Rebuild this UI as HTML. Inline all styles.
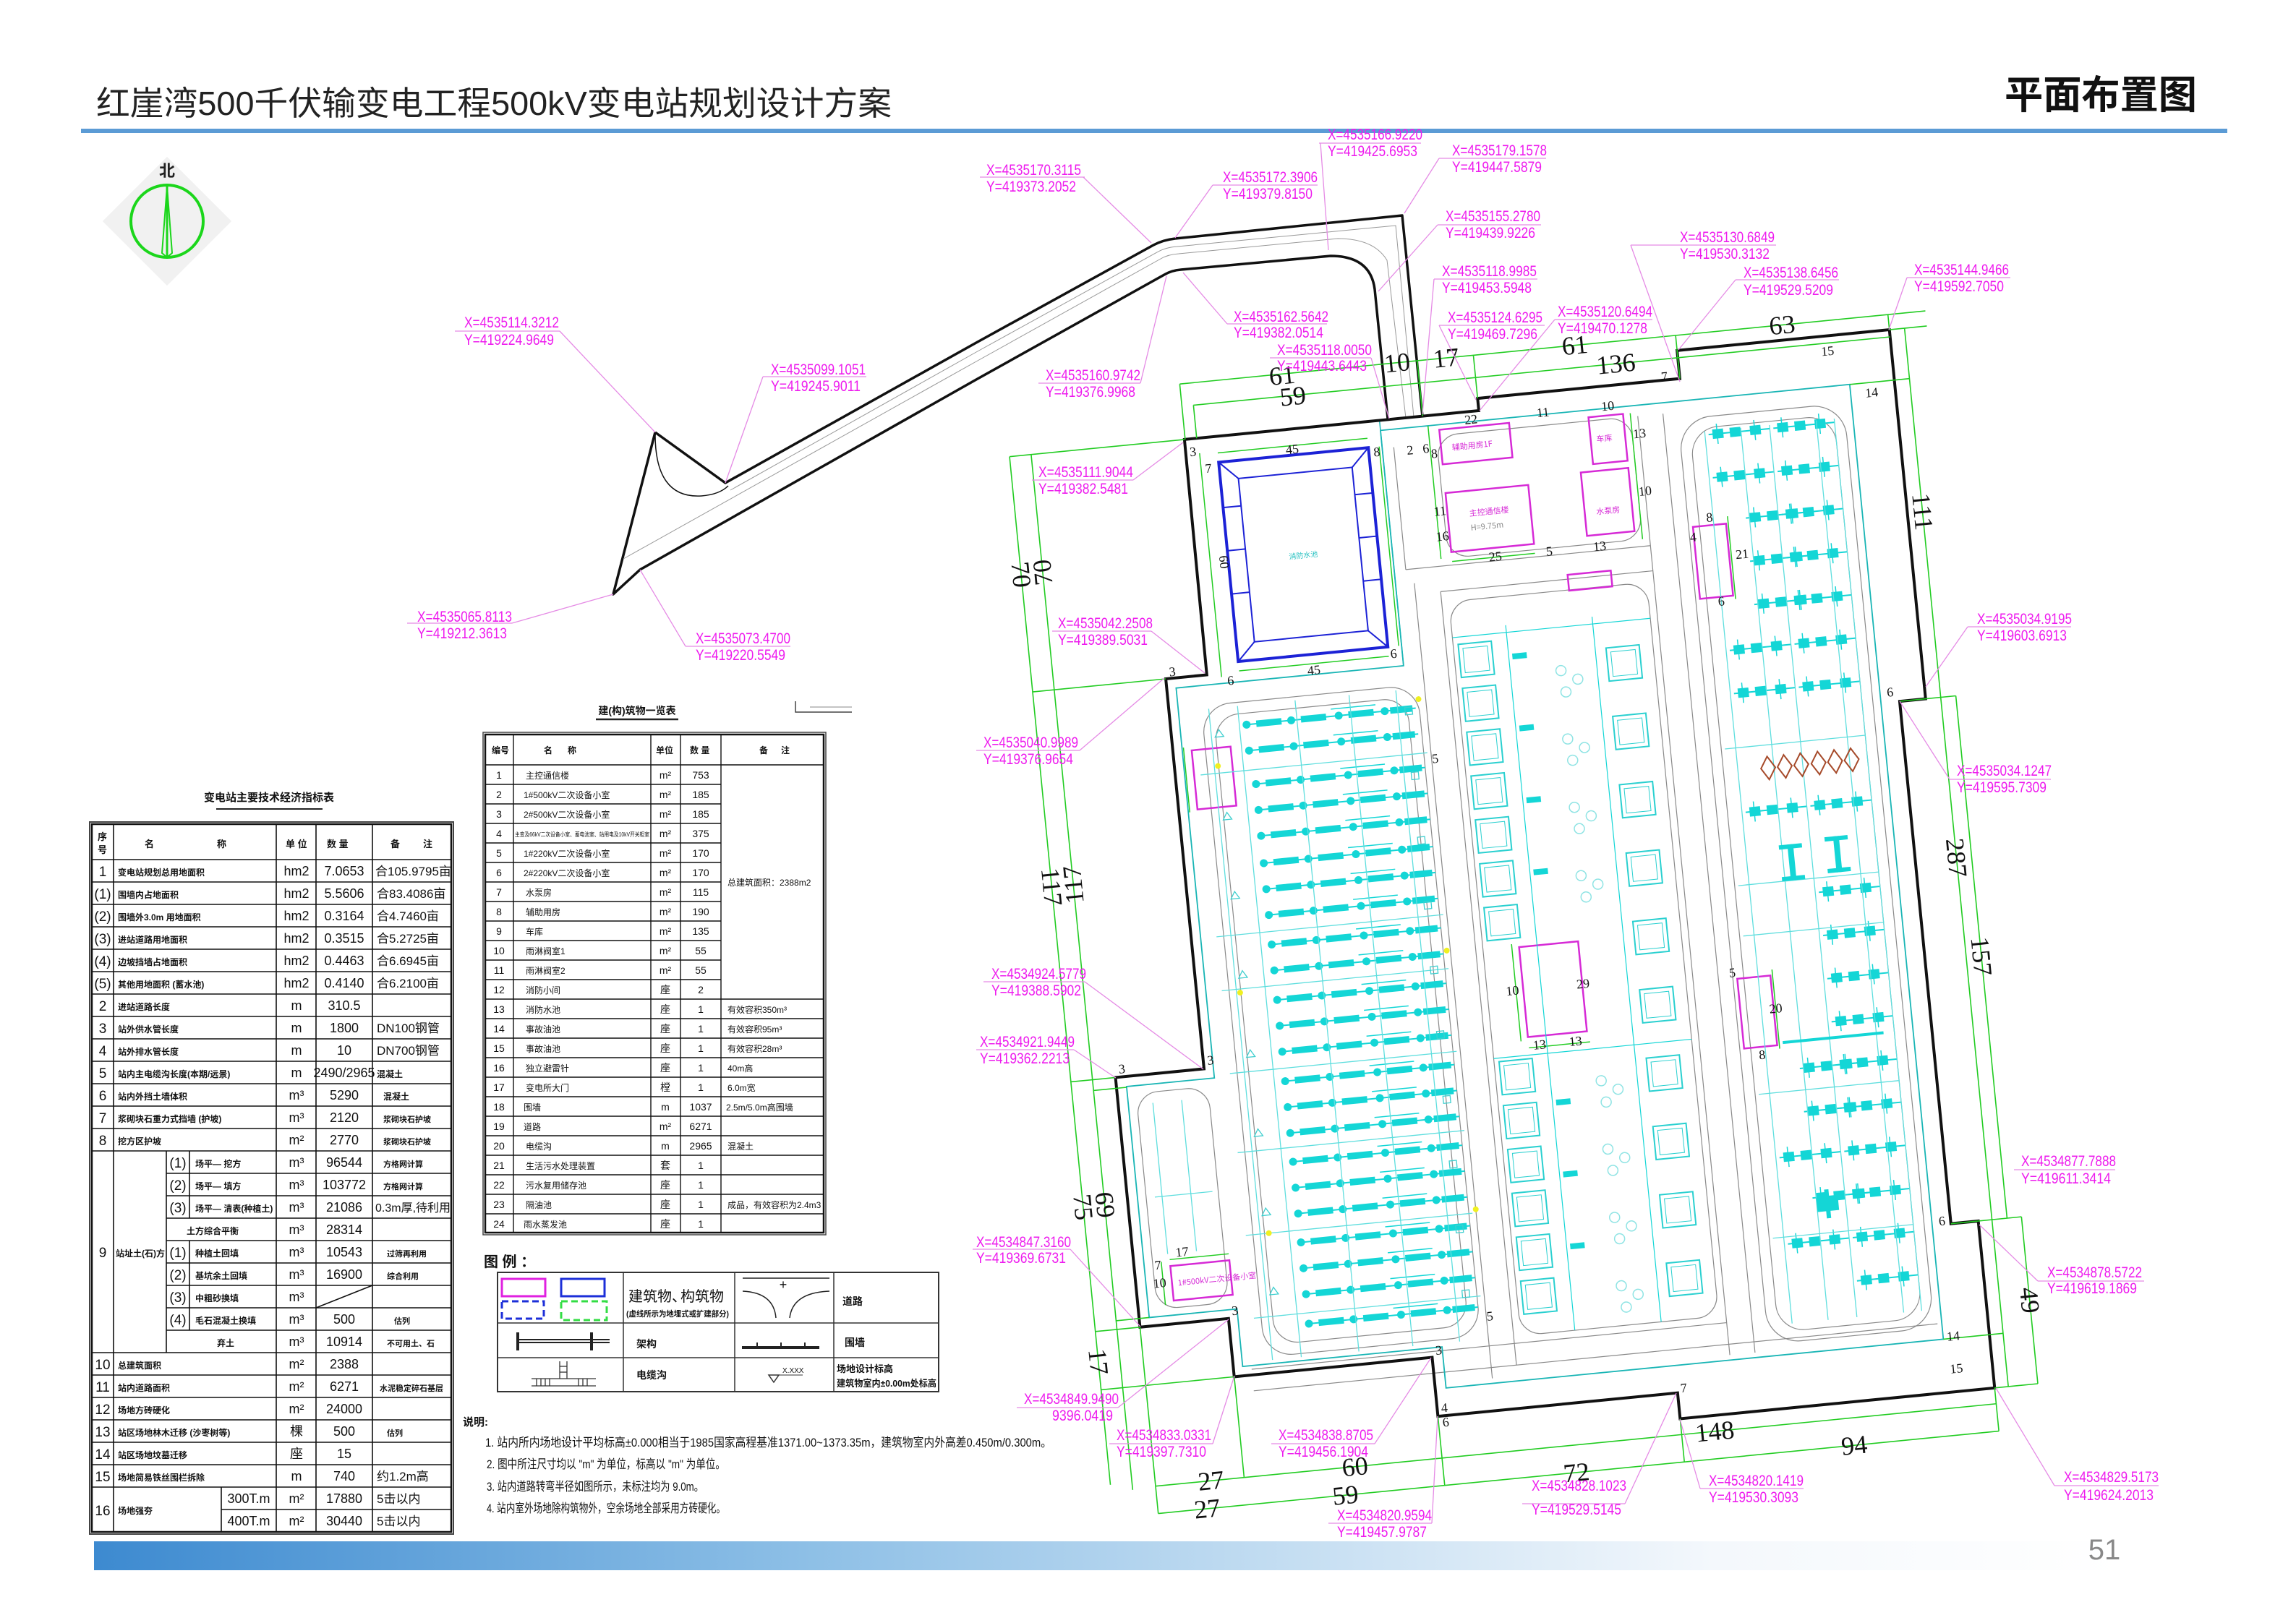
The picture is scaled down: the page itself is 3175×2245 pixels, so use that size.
<!DOCTYPE html>
<html><head><meta charset="utf-8"><style>
html,body{margin:0;padding:0;background:#fff;}
svg{display:block;}
.cl text{fill:#ee1cee;font-family:"Liberation Sans",sans-serif;font-size:21px;}
.cl line,.cl polyline{stroke:#e58be5;stroke-width:1.3;fill:none;}
.tb text{font-family:"Liberation Sans","Noto Sans CJK SC",sans-serif;fill:#111;}
.dm{font-family:"Liberation Serif",serif;fill:#111;}
</style></head><body>
<svg width="3175" height="2245" viewBox="0 0 3175 2245" xmlns="http://www.w3.org/2000/svg">
<defs>
<linearGradient id="bar" x1="0" x2="1" y1="0" y2="0">
<stop offset="0" stop-color="#3d8ad0"/><stop offset="0.35" stop-color="#8dbfe6"/><stop offset="0.8" stop-color="#f4f8fc"/><stop offset="1" stop-color="#ffffff"/></linearGradient>
<g id="b5" fill="#14d6d6" stroke="#14d6d6">
<line x1="0" y1="0" x2="235" y2="0" stroke-width="2"/>
<circle cx="0" cy="0" r="5"/><rect x="14" y="-4" width="34" height="8"/>
<circle cx="62" cy="0" r="5"/><rect x="76" y="-4" width="34" height="8"/>
<line x1="118" y1="-10" x2="180" y2="-10" stroke-width="1.5"/>
<circle cx="128" cy="0" r="5"/><rect x="142" y="-4" width="34" height="8"/><circle cx="192" cy="0" r="5"/><rect x="200" y="-4" width="30" height="8"/>
</g>
<g id="b2" fill="#14d6d6" stroke="#14d6d6">
<line x1="0" y1="0" x2="85" y2="0" stroke-width="2"/>
<rect x="6" y="-6" width="14" height="12"/><rect x="30" y="-6" width="14" height="12"/><rect x="58" y="-6" width="14" height="12"/>
<line x1="12" y1="-14" x2="12" y2="14" stroke-width="1.5"/><line x1="64" y1="-14" x2="64" y2="14" stroke-width="1.5"/>
</g>
<g id="sq"><rect x="0" y="0" width="46" height="46" fill="none" stroke="#2ad0d0" stroke-width="2"/><rect x="6" y="6" width="34" height="34" fill="none" stroke="#2ad0d0" stroke-width="1"/></g>
<g id="cc" fill="none" stroke="#8fe4e4" stroke-width="1.5"><circle cx="0" cy="0" r="7"/><circle cx="22" cy="14" r="7"/><circle cx="4" cy="30" r="7"/></g>
</defs>
<rect width="3175" height="2245" fill="#fff"/>

<!-- header -->
<text x="133" y="159" font-family="Liberation Sans,'Noto Sans CJK SC',sans-serif" font-size="46" fill="#222" textLength="1100" lengthAdjust="spacingAndGlyphs">红崖湾500千伏输变电工程500kV变电站规划设计方案</text>
<text x="2772" y="150" font-family="'Noto Sans CJK SC',sans-serif" font-size="54" font-weight="bold" fill="#111" textLength="266" lengthAdjust="spacingAndGlyphs">平面布置图</text>
<rect x="112" y="178" width="2968" height="6" fill="#5b9bd5"/>

<!-- north arrow -->
<rect x="168" y="243" width="126" height="126" fill="#f1f1f1" transform="rotate(45 231 306)"/>
<circle cx="231" cy="306" r="50" fill="none" stroke="#1bd61b" stroke-width="4"/>
<polygon points="231,258 224,350 231,356 238,350" fill="none" stroke="#1bd61b" stroke-width="2"/>
<line x1="231" y1="258" x2="231" y2="356" stroke="#1bd61b" stroke-width="3"/>
<text x="231" y="244" font-family="'Noto Sans CJK SC',sans-serif" font-size="22" text-anchor="middle" fill="#222" font-weight="bold">北</text>

<!-- ===== LEFT TABLE ===== -->
<g class="tb">
<text x="372" y="1108" font-size="15" font-weight="bold" text-anchor="middle">变电站主要技术经济指标表</text>
<line x1="299" y1="1119" x2="446" y2="1119" stroke="#222" stroke-width="2"/>
<rect x="124" y="1137" width="503" height="985" fill="none" stroke="#444" stroke-width="2"/>
<rect x="127" y="1140" width="497" height="979" fill="none" stroke="#111" stroke-width="2.5"/>
<g stroke="#111" stroke-width="1.6">
<line x1="127" y1="1189" x2="624" y2="1189"/>
<line x1="127" y1="1220" x2="624" y2="1220"/><line x1="127" y1="1251" x2="624" y2="1251"/><line x1="127" y1="1282" x2="624" y2="1282"/><line x1="127" y1="1313" x2="624" y2="1313"/><line x1="127" y1="1344" x2="624" y2="1344"/><line x1="127" y1="1375" x2="624" y2="1375"/><line x1="127" y1="1406" x2="624" y2="1406"/><line x1="127" y1="1437" x2="624" y2="1437"/><line x1="127" y1="1468" x2="624" y2="1468"/><line x1="127" y1="1499" x2="624" y2="1499"/><line x1="127" y1="1530" x2="624" y2="1530"/><line x1="127" y1="1561" x2="624" y2="1561"/><line x1="127" y1="1592" x2="624" y2="1592"/>
<line x1="230" y1="1623" x2="624" y2="1623"/><line x1="230" y1="1654" x2="624" y2="1654"/><line x1="230" y1="1685" x2="624" y2="1685"/><line x1="230" y1="1716" x2="624" y2="1716"/><line x1="230" y1="1747" x2="624" y2="1747"/><line x1="230" y1="1778" x2="624" y2="1778"/><line x1="230" y1="1809" x2="624" y2="1809"/><line x1="230" y1="1840" x2="624" y2="1840"/>
<line x1="127" y1="1871" x2="624" y2="1871"/><line x1="127" y1="1902" x2="624" y2="1902"/><line x1="127" y1="1933" x2="624" y2="1933"/><line x1="127" y1="1964" x2="624" y2="1964"/><line x1="127" y1="1995" x2="624" y2="1995"/><line x1="127" y1="2026" x2="624" y2="2026"/><line x1="127" y1="2057" x2="624" y2="2057"/>
<line x1="306" y1="2088" x2="624" y2="2088"/>
<line x1="157" y1="1140" x2="157" y2="2119"/>
<line x1="382" y1="1140" x2="382" y2="2119"/><line x1="437" y1="1140" x2="437" y2="2119"/><line x1="515" y1="1140" x2="515" y2="2119"/>
<line x1="230" y1="1592" x2="230" y2="1871"/>
<line x1="262" y1="1592" x2="262" y2="1685"/><line x1="262" y1="1716" x2="262" y2="1840"/>
<line x1="306" y1="2057" x2="306" y2="2119"/>
<line x1="437" y1="1809" x2="515" y2="1778"/>
</g>
<g font-size="13" font-weight="bold">
<text x="135" y="1162">序</text><text x="135" y="1180">号</text>
<text x="200" y="1172">名</text><text x="300" y="1172">称</text>
<text x="395" y="1172">单 位</text><text x="452" y="1172">数 量</text><text x="540" y="1172">备</text><text x="585" y="1172">注</text>
</g>
<g font-size="19" text-anchor="middle">
<text x="142" y="1212">1</text><text x="142" y="1243">(1)</text><text x="142" y="1274">(2)</text><text x="142" y="1305">(3)</text><text x="142" y="1336">(4)</text><text x="142" y="1367">(5)</text>
<text x="142" y="1398">2</text><text x="142" y="1429">3</text><text x="142" y="1460">4</text><text x="142" y="1491">5</text><text x="142" y="1522">6</text><text x="142" y="1553">7</text><text x="142" y="1584">8</text><text x="142" y="1739">9</text>
<text x="142" y="1894">10</text><text x="142" y="1925">11</text><text x="142" y="1956">12</text><text x="142" y="1987">13</text><text x="142" y="2018">14</text><text x="142" y="2049">15</text><text x="142" y="2096">16</text>
<text x="246" y="1615">(1)</text><text x="246" y="1646">(2)</text><text x="246" y="1677">(3)</text><text x="246" y="1739">(1)</text><text x="246" y="1770">(2)</text><text x="246" y="1801">(3)</text><text x="246" y="1832">(4)</text>
</g>
<g font-size="12" font-weight="bold">
<text x="163" y="1211">变电站规划总用地面积</text><text x="163" y="1242">围墙内占地面积</text><text x="163" y="1273">围墙外3.0m 用地面积</text><text x="163" y="1304">进站道路用地面积</text><text x="163" y="1335">边坡挡墙占地面积</text><text x="163" y="1366">其他用地面积 (蓄水池)</text>
<text x="163" y="1397">进站道路长度</text><text x="163" y="1428">站外供水管长度</text><text x="163" y="1459">站外排水管长度</text><text x="163" y="1490">站内主电缆沟长度(本期/远景)</text><text x="163" y="1521">站内外挡土墙体积</text><text x="163" y="1552">浆砌块石重力式挡墙 (护坡)</text><text x="163" y="1583">挖方区护坡</text>
<text x="160" y="1738">站址土(石)方</text>
<text x="270" y="1614">场平— 挖方</text><text x="270" y="1645">场平— 填方</text><text x="270" y="1676">场平— 清表(种植土)</text><text x="258" y="1707">土方综合平衡</text><text x="270" y="1738">种植土回填</text><text x="270" y="1769">基坑余土回填</text><text x="270" y="1800">中粗砂换填</text><text x="270" y="1831">毛石混凝土换填</text><text x="300" y="1862">弃土</text>
<text x="163" y="1893">总建筑面积</text><text x="163" y="1924">站内道路面积</text><text x="163" y="1955">场地方砖硬化</text><text x="163" y="1986">站区场地林木迁移 (沙枣树等)</text><text x="163" y="2017">站区场地坟墓迁移</text><text x="163" y="2048">场地简易铁丝围栏拆除</text><text x="163" y="2094">场地强夯</text>
</g>
<g font-size="18" text-anchor="middle">
<text x="410" y="1211">hm2</text><text x="410" y="1242">hm2</text><text x="410" y="1273">hm2</text><text x="410" y="1304">hm2</text><text x="410" y="1335">hm2</text><text x="410" y="1366">hm2</text>
<text x="410" y="1397">m</text><text x="410" y="1428">m</text><text x="410" y="1459">m</text><text x="410" y="1490">m</text><text x="410" y="1521">m³</text><text x="410" y="1552">m³</text><text x="410" y="1583">m²</text>
<text x="410" y="1614">m³</text><text x="410" y="1645">m³</text><text x="410" y="1676">m³</text><text x="410" y="1707">m³</text><text x="410" y="1738">m³</text><text x="410" y="1769">m³</text><text x="410" y="1800">m³</text><text x="410" y="1831">m³</text><text x="410" y="1862">m³</text>
<text x="410" y="1893">m²</text><text x="410" y="1924">m²</text><text x="410" y="1955">m²</text><text x="410" y="1986">棵</text><text x="410" y="2017">座</text><text x="410" y="2048">m</text><text x="410" y="2079">m²</text><text x="410" y="2110">m²</text>
<text x="476" y="1211">7.0653</text><text x="476" y="1242">5.5606</text><text x="476" y="1273">0.3164</text><text x="476" y="1304">0.3515</text><text x="476" y="1335">0.4463</text><text x="476" y="1366">0.4140</text>
<text x="476" y="1397">310.5</text><text x="476" y="1428">1800</text><text x="476" y="1459">10</text><text x="476" y="1490">2490/2965</text><text x="476" y="1521">5290</text><text x="476" y="1552">2120</text><text x="476" y="1583">2770</text>
<text x="476" y="1614">96544</text><text x="476" y="1645">103772</text><text x="476" y="1676">21086</text><text x="476" y="1707">28314</text><text x="476" y="1738">10543</text><text x="476" y="1769">16900</text><text x="476" y="1831">500</text><text x="476" y="1862">10914</text>
<text x="476" y="1893">2388</text><text x="476" y="1924">6271</text><text x="476" y="1955">24000</text><text x="476" y="1986">500</text><text x="476" y="2017">15</text><text x="476" y="2048">740</text><text x="476" y="2079">17880</text><text x="476" y="2110">30440</text>
<text x="344" y="2079">300T.m</text><text x="344" y="2110">400T.m</text>
</g>
<g font-size="17">
<text x="519" y="1211">合105.9795亩</text><text x="521" y="1242">合83.4086亩</text><text x="521" y="1273">合4.7460亩</text><text x="521" y="1304">合5.2725亩</text><text x="521" y="1335">合6.6945亩</text><text x="521" y="1366">合6.2100亩</text>
<text x="521" y="1428">DN100钢管</text><text x="521" y="1459">DN700钢管</text><text x="521" y="1490" font-size="12" font-weight="bold">混凝土</text><text x="530" y="1521" font-size="12" font-weight="bold">混凝土</text><text x="530" y="1552" font-size="11" font-weight="bold">浆砌块石护坡</text><text x="530" y="1583" font-size="11" font-weight="bold">浆砌块石护坡</text>
<text x="530" y="1614" font-size="11" font-weight="bold">方格网计算</text><text x="530" y="1645" font-size="11" font-weight="bold">方格网计算</text><text x="519" y="1676" font-size="16">0.3m厚,待利用</text><text x="535" y="1738" font-size="11" font-weight="bold">过筛再利用</text><text x="535" y="1769" font-size="11" font-weight="bold">综合利用</text><text x="545" y="1831" font-size="11" font-weight="bold">估列</text><text x="535" y="1862" font-size="11" font-weight="bold">不可用土、石</text>
<text x="525" y="1924" font-size="11" font-weight="bold">水泥稳定碎石基层</text><text x="535" y="1986" font-size="11" font-weight="bold">估列</text><text x="521" y="2048">约1.2m高</text><text x="521" y="2079">5击以内</text><text x="521" y="2110">5击以内</text>
</g>
</g>

<!-- ===== MIDDLE TABLE ===== -->
<g class="tb">
<text x="881" y="988" font-size="14" font-weight="bold" text-anchor="middle">建(构)筑物一览表</text>
<line x1="824" y1="995" x2="938" y2="995" stroke="#222" stroke-width="2.5"/>
<polyline points="1100,970 1100,985 1178,985" fill="none" stroke="#444" stroke-width="1.5"/>
<line x1="1120" y1="978" x2="1178" y2="978" stroke="#888" stroke-width="1"/>
<rect x="668" y="1013" width="474" height="695" fill="none" stroke="#444" stroke-width="1.5"/>
<rect x="671" y="1016" width="468" height="689" fill="none" stroke="#111" stroke-width="2.5"/>
<g stroke="#111" stroke-width="1.4">
<line x1="671" y1="1058" x2="1139" y2="1058"/>
<line x1="671" y1="1085" x2="997" y2="1085"/><line x1="671" y1="1112" x2="997" y2="1112"/><line x1="671" y1="1139" x2="997" y2="1139"/><line x1="671" y1="1166" x2="997" y2="1166"/><line x1="671" y1="1193" x2="997" y2="1193"/><line x1="671" y1="1220" x2="997" y2="1220"/><line x1="671" y1="1247" x2="997" y2="1247"/><line x1="671" y1="1274" x2="997" y2="1274"/><line x1="671" y1="1301" x2="997" y2="1301"/><line x1="671" y1="1328" x2="997" y2="1328"/><line x1="671" y1="1355" x2="997" y2="1355"/>
<line x1="671" y1="1382" x2="1139" y2="1382"/><line x1="671" y1="1409" x2="1139" y2="1409"/><line x1="671" y1="1436" x2="1139" y2="1436"/><line x1="671" y1="1463" x2="1139" y2="1463"/><line x1="671" y1="1490" x2="1139" y2="1490"/><line x1="671" y1="1517" x2="1139" y2="1517"/><line x1="671" y1="1544" x2="1139" y2="1544"/><line x1="671" y1="1571" x2="1139" y2="1571"/><line x1="671" y1="1598" x2="1139" y2="1598"/><line x1="671" y1="1625" x2="1139" y2="1625"/><line x1="671" y1="1652" x2="1139" y2="1652"/><line x1="671" y1="1679" x2="1139" y2="1679"/>
<line x1="710" y1="1016" x2="710" y2="1705"/><line x1="900" y1="1016" x2="900" y2="1705"/><line x1="941" y1="1016" x2="941" y2="1705"/><line x1="997" y1="1016" x2="997" y2="1705"/>
</g>
<g font-size="12" font-weight="bold"><text x="680" y="1042">编号</text><text x="752" y="1042">名</text><text x="785" y="1042">称</text><text x="907" y="1042">单位</text><text x="954" y="1042">数 量</text><text x="1050" y="1042">备</text><text x="1080" y="1042">注</text></g>
<g font-size="14" text-anchor="middle">
<text x="690" y="1077">1</text><text x="690" y="1104">2</text><text x="690" y="1131">3</text><text x="690" y="1158">4</text><text x="690" y="1185">5</text><text x="690" y="1212">6</text><text x="690" y="1239">7</text><text x="690" y="1266">8</text><text x="690" y="1293">9</text><text x="690" y="1320">10</text><text x="690" y="1347">11</text><text x="690" y="1374">12</text><text x="690" y="1401">13</text><text x="690" y="1428">14</text><text x="690" y="1455">15</text><text x="690" y="1482">16</text><text x="690" y="1509">17</text><text x="690" y="1536">18</text><text x="690" y="1563">19</text><text x="690" y="1590">20</text><text x="690" y="1617">21</text><text x="690" y="1644">22</text><text x="690" y="1671">23</text><text x="690" y="1698">24</text>
<text x="969" y="1077">753</text><text x="969" y="1104">185</text><text x="969" y="1131">185</text><text x="969" y="1158">375</text><text x="969" y="1185">170</text><text x="969" y="1212">170</text><text x="969" y="1239">115</text><text x="969" y="1266">190</text><text x="969" y="1293">135</text><text x="969" y="1320">55</text><text x="969" y="1347">55</text><text x="969" y="1374">2</text><text x="969" y="1401">1</text><text x="969" y="1428">1</text><text x="969" y="1455">1</text><text x="969" y="1482">1</text><text x="969" y="1509">1</text><text x="969" y="1536">1037</text><text x="969" y="1563">6271</text><text x="969" y="1590">2965</text><text x="969" y="1617">1</text><text x="969" y="1644">1</text><text x="969" y="1671">1</text><text x="969" y="1698">1</text>
<text x="920" y="1077">m²</text><text x="920" y="1104">m²</text><text x="920" y="1131">m²</text><text x="920" y="1158">m²</text><text x="920" y="1185">m²</text><text x="920" y="1212">m²</text><text x="920" y="1239">m²</text><text x="920" y="1266">m²</text><text x="920" y="1293">m²</text><text x="920" y="1320">m²</text><text x="920" y="1347">m²</text><text x="920" y="1374">座</text><text x="920" y="1401">座</text><text x="920" y="1428">座</text><text x="920" y="1455">座</text><text x="920" y="1482">座</text><text x="920" y="1509">樘</text><text x="920" y="1536">m</text><text x="920" y="1563">m²</text><text x="920" y="1590">m</text><text x="920" y="1617">套</text><text x="920" y="1644">座</text><text x="920" y="1671">座</text><text x="920" y="1698">座</text>
</g>
<g font-size="12">
<text x="727" y="1077">主控通信楼</text><text x="724" y="1104">1#500kV二次设备小室</text><text x="724" y="1131">2#500kV二次设备小室</text><text x="712" y="1157" font-size="8" textLength="186" lengthAdjust="spacingAndGlyphs">主变及66kV二次设备小室、蓄电池室、站用电及10kV开关柜室</text><text x="724" y="1185">1#220kV二次设备小室</text><text x="724" y="1212">2#220kV二次设备小室</text><text x="727" y="1239">水泵房</text><text x="727" y="1266">辅助用房</text><text x="727" y="1293">车库</text><text x="727" y="1320">雨淋阀室1</text><text x="727" y="1347">雨淋阀室2</text><text x="727" y="1374">消防小间</text><text x="727" y="1401">消防水池</text><text x="727" y="1428">事故油池</text><text x="727" y="1455">事故油池</text><text x="727" y="1482">独立避雷针</text><text x="727" y="1509">变电所大门</text><text x="724" y="1536">围墙</text><text x="724" y="1563">道路</text><text x="727" y="1590">电缆沟</text><text x="727" y="1617">生活污水处理装置</text><text x="727" y="1644">污水复用储存池</text><text x="727" y="1671">隔油池</text><text x="724" y="1698">雨水蒸发池</text>
<text x="1006" y="1225">总建筑面积：2388m2</text>
<text x="1006" y="1401">有效容积350m³</text><text x="1006" y="1428">有效容积95m³</text><text x="1006" y="1455">有效容积28m³</text><text x="1006" y="1482">40m高</text><text x="1006" y="1509">6.0m宽</text><text x="1004" y="1536">2.5m/5.0m高围墙</text><text x="1006" y="1590">混凝土</text><text x="1006" y="1671">成品，有效容积为2.4m3</text>
</g>
</g>

<!-- ===== LEGEND ===== -->
<g class="tb">
<text x="669" y="1752" font-size="20" font-weight="bold">图 例 ：</text>
<rect x="688" y="1760" width="610" height="165" fill="none" stroke="#333" stroke-width="2"/>
<g stroke="#333" stroke-width="1.5"><line x1="688" y1="1830" x2="1298" y2="1830"/><line x1="688" y1="1878" x2="1298" y2="1878"/><line x1="862" y1="1760" x2="862" y2="1925"/><line x1="1016" y1="1760" x2="1016" y2="1925"/><line x1="1153" y1="1760" x2="1153" y2="1925"/></g>
<rect x="694" y="1769" width="60" height="24" fill="none" stroke="#e020e0" stroke-width="3"/>
<rect x="776" y="1769" width="60" height="24" fill="none" stroke="#1c2fd8" stroke-width="3"/>
<rect x="694" y="1800" width="58" height="24" fill="none" stroke="#1c2fd8" stroke-width="3" stroke-dasharray="9,5"/>
<rect x="776" y="1800" width="63" height="26" fill="none" stroke="#33dd44" stroke-width="3" stroke-dasharray="9,5"/>
<text x="869" y="1800" font-size="20" fill="#ee44ee">建筑物、</text><text x="941" y="1800" font-size="20" fill="#3a3ad8">构筑物</text>
<text x="866" y="1821" font-size="11" font-weight="bold" textLength="142" lengthAdjust="spacingAndGlyphs">(虚线所示为地埋式或扩建部分)</text>
<line x1="1027" y1="1768" x2="1147" y2="1768" stroke="#222" stroke-width="1.5"/>
<text x="1083" y="1783" font-size="18" text-anchor="middle">+</text>
<path d="M1027,1786 Q1070,1788 1073,1823 M1092,1823 Q1096,1788 1147,1786" fill="none" stroke="#222" stroke-width="1.5"/>
<text x="1165" y="1805" font-size="14" font-weight="bold">道路</text>
<line x1="716" y1="1855" x2="843" y2="1855" stroke="#222" stroke-width="6"/><line x1="716" y1="1855" x2="843" y2="1855" stroke="#fff" stroke-width="2"/>
<line x1="716" y1="1843" x2="716" y2="1868" stroke="#222" stroke-width="4"/><line x1="818" y1="1843" x2="818" y2="1868" stroke="#222" stroke-width="4"/>
<text x="880" y="1864" font-size="14" font-weight="bold">架构</text>
<line x1="1026" y1="1864" x2="1133" y2="1864" stroke="#222" stroke-width="4"/>
<line x1="1047" y1="1857" x2="1047" y2="1864" stroke="#222" stroke-width="2"/><line x1="1080" y1="1857" x2="1080" y2="1864" stroke="#222" stroke-width="2"/><line x1="1113" y1="1857" x2="1113" y2="1864" stroke="#222" stroke-width="2"/>
<text x="1168" y="1862" font-size="14" font-weight="bold">围墙</text>
<g stroke="#333" stroke-width="1.3" fill="none"><line x1="735" y1="1907" x2="824" y2="1907"/><line x1="735" y1="1917" x2="824" y2="1917"/><line x1="774" y1="1883" x2="774" y2="1907"/><line x1="784" y1="1883" x2="784" y2="1907"/><line x1="774" y1="1890" x2="784" y2="1890"/><line x1="774" y1="1898" x2="784" y2="1898"/><path d="M742,1907 v10 M748,1907 v10 M754,1907 v10 M760,1907 v10 M800,1907 v10 M806,1907 v10 M812,1907 v10"/></g>
<text x="880" y="1907" font-size="14" font-weight="bold">电缆沟</text>
<polygon points="1063,1902 1077,1902 1070,1912" fill="none" stroke="#333" stroke-width="1.5"/><line x1="1063" y1="1902" x2="1110" y2="1902" stroke="#333"/>
<text x="1082" y="1899" font-size="10">X.XXX</text>
<text x="1157" y="1898" font-size="13" font-weight="bold">场地设计标高</text>
<text x="1157" y="1918" font-size="13" font-weight="bold" textLength="138" lengthAdjust="spacingAndGlyphs">建筑物室内±0.00m处标高</text>
</g>

<!-- ===== NOTES ===== -->
<g class="tb" font-size="17">
<text x="640" y="1972" font-size="15" font-weight="bold">说明:</text>
<text x="671" y="2001" textLength="783" lengthAdjust="spacingAndGlyphs">1. 站内所内场地设计平均标高±0.000相当于1985国家高程基准1371.00~1373.35m，建筑物室内外高差0.450m/0.300m。</text>
<text x="673" y="2031" textLength="330" lengthAdjust="spacingAndGlyphs">2. 图中所注尺寸均以 "m" 为单位，标高以 "m" 为单位。</text>
<text x="673" y="2062" textLength="300" lengthAdjust="spacingAndGlyphs">3. 站内道路转弯半径如图所示，未标注均为 9.0m。</text>
<text x="673" y="2092" textLength="330" lengthAdjust="spacingAndGlyphs">4. 站内室外场地除构筑物外，空余场地全部采用方砖硬化。</text>
</g>

<!-- ===== ACCESS ROAD ===== -->
<g fill="none" stroke="#111" stroke-width="3.5" stroke-linejoin="round">
<path d="M906,598 L1003,668 L1350,474 L1595,339 Q1608,332 1625,330 L1939,298 L1967,576"/>
<path d="M906,598 L848,822 L885,788 L1350,525 L1610,380 Q1620,374 1633,373 L1840,354 Q1895,354 1901,400 L1919,579"/>
</g>
<path d="M906,598 Q905,690 970,686 Q995,684 1007,672" fill="none" stroke="#111" stroke-width="1.5"/>
<g fill="none" stroke="#999" stroke-width="1">
<path d="M862,773 L1350,500 L1605,358 Q1615,352 1630,351 L1850,330 Q1900,330 1918,360 L1944,578"/>
<path d="M1010,678 L1350,487 L1600,349 Q1612,342 1628,341 L1930,312 L1955,577"/>
</g>

<!-- ===== STATION (rotated frame) ===== -->
<g transform="rotate(-5.6 2150 1250)">
<g fill="none" stroke="#8a8a8a" stroke-width="1.2">
<rect x="1690" y="930" width="300" height="905" rx="40"/>
<rect x="1706" y="946" width="268" height="873" rx="34"/>
<rect x="1548" y="1455" width="100" height="300" rx="30"/>
<line x1="2000" y1="790" x2="2000" y2="1895"/><line x1="2035" y1="805" x2="2035" y2="1880"/>
<line x1="2330" y1="590" x2="2330" y2="1895"/><line x1="2365" y1="590" x2="2365" y2="1895"/>
<path d="M1990,770 L2330,770 M2035,805 L2330,805"/>
<rect x="2385" y="600" width="230" height="1285" rx="45"/>
<rect x="2400" y="615" width="200" height="1255" rx="38"/>
<line x1="1670" y1="1880" x2="2620" y2="1880"/><line x1="1670" y1="1850" x2="2330" y2="1850"/>
<rect x="2045" y="820" width="275" height="1020" rx="30"/>
<rect x="2050" y="590" width="270" height="170" rx="30"/>
<path d="M1990,600 L1990,770"/>
</g>
<polygon points="1974,575 2626,575 2626,1902 1935,1902 1935,1845 1658,1845 1658,1765 1536,1765 1536,1444 1658,1444 1658,902 1974,902" fill="none" stroke="#19b5b5" stroke-width="1.8"/>
<line x1="1974" y1="561" x2="1974" y2="902" stroke="#19b5b5" stroke-width="1.5"/>
<polygon points="1703,561 2112,561 2112,544 2393,544 2393,505 2688,505 2688,1018 2652,1018 2652,1744 2690,1744 2690,1976 2253,1976 2253,1940 1920,1940 1920,1858 1645,1858 1645,1777 1522,1777 1522,1430 1645,1430 1645,888 1702,888" fill="none" stroke="#111" stroke-width="4"/>
<g fill="none" stroke="#1c22d6" stroke-width="4">
<rect x="1747" y="597" width="208" height="277"/>
<rect x="1772" y="622" width="158" height="227" stroke-width="2"/>
<path d="M1747,597 L1772,622 M1955,597 L1930,622 M1955,874 L1930,849 M1747,874 L1772,849" stroke-width="2"/>
<path d="M1747,660 h25 M1747,720 h25 M1747,780 h25 M1930,660 h25 M1930,720 h25 M1930,780 h25" stroke-width="2"/>
</g>
<text x="1851" y="740" font-size="10" fill="#22c0c0" text-anchor="middle">消防水池</text>
<g stroke="#22cc22" stroke-width="1.5" fill="none">
<path d="M1722,582 L1722,893 M1747,584 L1955,584 M1747,887 L1955,887 M1970,597 L1970,874"/>
</g>
<g fill="none" stroke="#d62ad6" stroke-width="2.5">
<rect x="2055" y="582" width="97" height="48"/>
<rect x="2055" y="670" width="115" height="82"/>
<rect x="2262" y="585" width="48" height="65"/>
<rect x="2244" y="660" width="66" height="88"/>
<rect x="2212" y="799" width="60" height="22"/>
<rect x="2391" y="750" width="46" height="100"/>
<rect x="2391" y="1378" width="46" height="97"/>
<rect x="1671" y="990" width="54" height="82"/>
<rect x="2095" y="1305" width="82" height="125"/>
<rect x="1572" y="1697" width="82" height="48"/>
</g>
<g font-family="'Noto Sans CJK SC',sans-serif" fill="#d62ad6" font-size="11">
<text x="2070" y="612">辅助用房1F</text><text x="2085" y="705">主控通信楼</text><text x="2085" y="725" fill="#888">H=9.75m</text>
<text x="2270" y="620">车库</text><text x="2260" y="720">水泵房</text><text x="1580" y="1725">1#500kV二次设备小室</text>
</g>
<g stroke="#22cc22" stroke-width="1.5" fill="none">
<path d="M2040,575 L2040,760 M2055,765 L2170,765 M2320,585 L2320,760 M2440,740 L2440,855 M2440,1370 L2440,1480 M1660,985 L1660,1075 M2085,1300 L2085,1435 M2095,1445 L2180,1445 M1560,1690 L1560,1750 M1572,1688 L1654,1688"/>
</g>
<g>
<use href="#sq" x="2052" y="880"/><use href="#sq" x="2052" y="941"/><use href="#sq" x="2052" y="1002"/><use href="#sq" x="2052" y="1063"/><use href="#sq" x="2052" y="1124"/><use href="#sq" x="2052" y="1185"/><use href="#sq" x="2052" y="1246"/><use href="#sq" x="2052" y="1460"/><use href="#sq" x="2052" y="1521"/><use href="#sq" x="2052" y="1582"/><use href="#sq" x="2052" y="1643"/><use href="#sq" x="2052" y="1704"/><use href="#sq" x="2052" y="1765"/>
<use href="#sq" x="2255" y="905"/><use href="#sq" x="2255" y="1000"/><use href="#sq" x="2255" y="1095"/><use href="#sq" x="2255" y="1190"/><use href="#sq" x="2255" y="1285"/><use href="#sq" x="2255" y="1380"/><use href="#sq" x="2255" y="1475"/><use href="#sq" x="2255" y="1570"/><use href="#sq" x="2255" y="1665"/><use href="#sq" x="2255" y="1760"/>
<use href="#cc" x="2190" y="930"/><use href="#cc" x="2190" y="1025"/><use href="#cc" x="2190" y="1120"/><use href="#cc" x="2190" y="1215"/><use href="#cc" x="2190" y="1500"/><use href="#cc" x="2190" y="1595"/><use href="#cc" x="2190" y="1690"/><use href="#cc" x="2190" y="1785"/>
<g stroke="#14d6d6" stroke-width="1.2" fill="none"><path d="M2120,860 L2120,1840 M2240,860 L2240,1840 M2045,1455 L2320,1455 M2045,870 L2320,870"/></g>
<g fill="#14d6d6"><rect x="2125" y="900" width="20" height="8"/><rect x="2125" y="1000" width="20" height="8"/><rect x="2125" y="1100" width="20" height="8"/><rect x="2125" y="1200" width="20" height="8"/><rect x="2125" y="1520" width="20" height="8"/><rect x="2125" y="1620" width="20" height="8"/><rect x="2125" y="1720" width="20" height="8"/></g>
</g>
<g>
<use href="#b5" x="1750" y="962"/><use href="#b5" x="1750" y="998"/><use href="#b5" x="1755" y="1045"/><use href="#b5" x="1755" y="1081"/><use href="#b5" x="1755" y="1117"/><use href="#b5" x="1755" y="1155"/><use href="#b5" x="1755" y="1191"/><use href="#b5" x="1755" y="1227"/><use href="#b5" x="1755" y="1268"/><use href="#b5" x="1755" y="1304"/><use href="#b5" x="1755" y="1345"/><use href="#b5" x="1755" y="1381"/><use href="#b5" x="1755" y="1417"/><use href="#b5" x="1755" y="1458"/><use href="#b5" x="1755" y="1494"/><use href="#b5" x="1755" y="1530"/><use href="#b5" x="1755" y="1570"/><use href="#b5" x="1755" y="1606"/><use href="#b5" x="1755" y="1642"/><use href="#b5" x="1755" y="1682"/><use href="#b5" x="1755" y="1718"/><use href="#b5" x="1755" y="1754"/><use href="#b5" x="1755" y="1795"/>
<g stroke="#5fdede" stroke-width="1.3" fill="none"><path d="M1700,935 L1700,1840 M1740,935 L1740,1840 M1820,935 L1820,1840 M1895,935 L1895,1840 M1960,935 L1960,1840 M1680,1025 L1995,1025 M1680,1250 L1995,1250 M1680,1325 L1995,1325 M1680,1440 L1995,1440 M1680,1550 L1995,1550 M1680,1665 L1995,1665 M1680,1780 L1995,1780 M1570,1470 L1570,1680 M1610,1470 L1610,1680 M1560,1600 L1640,1600"/></g>
<g fill="none" stroke="#3fcfcf" stroke-width="1.3"><path d="M1705,975 l6,-10 l6,10 z M1705,1090 l6,-10 l6,10 z M1705,1200 l6,-10 l6,10 z M1705,1310 l6,-10 l6,10 z M1705,1420 l6,-10 l6,10 z M1705,1530 l6,-10 l6,10 z M1705,1640 l6,-10 l6,10 z M1705,1750 l6,-10 l6,10 z"/>
<path d="M1970,960 h10 v10 h-10z M1970,1050 h10 v10 h-10z M1970,1140 h10 v10 h-10z M1970,1230 h10 v10 h-10z M1970,1320 h10 v10 h-10z M1970,1410 h10 v10 h-10z M1970,1500 h10 v10 h-10z M1970,1590 h10 v10 h-10z M1970,1680 h10 v10 h-10z M1970,1770 h10 v10 h-10z"/></g>
<g fill="#f0f020"><circle cx="1705" cy="1015" r="4"/><circle cx="1990" cy="950" r="4"/><circle cx="1705" cy="1330" r="4"/><circle cx="1995" cy="1300" r="4"/><circle cx="1712" cy="1665" r="4"/><circle cx="2000" cy="1660" r="4"/></g>
</g>
<g>
<use href="#b2" x="2425" y="625"/><use href="#b2" x="2515" y="625"/><use href="#b2" x="2425" y="685"/><use href="#b2" x="2515" y="685"/><use href="#b2" x="2465" y="745"/><use href="#b2" x="2515" y="745"/><use href="#b2" x="2465" y="805"/><use href="#b2" x="2515" y="805"/><use href="#b2" x="2465" y="865"/><use href="#b2" x="2515" y="865"/><use href="#b2" x="2425" y="925"/><use href="#b2" x="2515" y="925"/><use href="#b2" x="2425" y="985"/><use href="#b2" x="2515" y="985"/>
<use href="#b2" x="2425" y="1150"/><use href="#b2" x="2515" y="1150"/><use href="#b2" x="2515" y="1270"/><use href="#b2" x="2515" y="1330"/><use href="#b2" x="2515" y="1390"/><use href="#b2" x="2515" y="1450"/><use href="#b2" x="2465" y="1510"/><use href="#b2" x="2515" y="1510"/><use href="#b2" x="2465" y="1570"/><use href="#b2" x="2515" y="1570"/><use href="#b2" x="2425" y="1630"/><use href="#b2" x="2515" y="1630"/><use href="#b2" x="2465" y="1690"/><use href="#b2" x="2515" y="1690"/><use href="#b2" x="2425" y="1750"/><use href="#b2" x="2515" y="1750"/><use href="#b2" x="2515" y="1810"/>
<g stroke="#5fdede" stroke-width="1.3" fill="none"><path d="M2420,620 L2420,1860 M2470,620 L2470,1860 M2510,620 L2510,1860 M2575,620 L2575,1860 M2600,620 L2600,1860 M2405,1060 L2600,1060 M2405,1250 L2600,1250 M2405,1320 L2600,1320 M2405,1540 L2600,1540 M2405,1740 L2600,1740"/></g>
<g fill="none" stroke="#a64a2a" stroke-width="2"><path d="M2452,1092 l10,-16 l10,16 l-10,16z M2475,1092 l10,-16 l10,16 l-10,16z M2498,1092 l10,-16 l10,16 l-10,16z M2522,1092 l10,-16 l10,16 l-10,16z M2545,1092 l10,-16 l10,16 l-10,16z M2568,1092 l10,-16 l10,16 l-10,16z"/></g>
<g fill="#14d6d6"><rect x="2478" y="1200" width="8" height="50"/><rect x="2466" y="1200" width="32" height="6"/><rect x="2466" y="1244" width="32" height="6"/><rect x="2542" y="1195" width="8" height="50"/><rect x="2530" y="1195" width="32" height="6"/><rect x="2530" y="1239" width="32" height="6"/><rect x="2445" y="1470" width="140" height="4"/><rect x="2482" y="1680" width="6" height="40"/><rect x="2470" y="1690" width="30" height="20"/></g>
</g>
<g stroke="#22cc22" stroke-width="1.6" fill="none">
<path d="M1704,484 L2740,484 M1720,515 L2688,515 M1704,484 L1704,561 M1720,515 L1720,561 M2112,484 L2112,544 M2034,484 L2034,561 M2393,484 L2393,544 M2688,484 L2688,505"/>
<path d="M1460,561 L1460,1990 M1490,561 L1490,2000 M1460,561 L1703,561 M1460,888 L1645,888 M1490,888 L1645,888 M1460,1430 L1522,1430 M1490,1445 L1536,1445 M1460,1777 L1522,1777 M1460,1858 L1645,1858 M1490,1765 L1536,1765"/>
<path d="M2709,505 L2709,1976 M2730,1018 L2730,1744 M2750,1744 L2750,1976 M2688,505 L2740,505 M2652,1018 L2730,1018 M2652,1744 L2750,1744 M2690,1976 L2750,1976 M2626,575 L2709,575 M2626,1902 L2709,1902"/>
<path d="M1522,1998 L2690,1998 M1522,2036 L2690,2036 M1522,1777 L1522,2036 M1645,1858 L1645,1998 M1920,1940 L1920,2036 M2253,1976 L2253,2036 M2690,1976 L2690,2036"/>
</g>
<g class="dm" font-size="36" text-anchor="middle">
<text x="1846" y="498">61</text><text x="1858" y="528">59</text><text x="2006" y="496">10</text><text x="2074" y="496">17</text><text x="2253" y="496">61</text><text x="2307" y="527">136</text><text x="2541" y="496">63</text>
<text x="1599" y="2010">27</text><text x="1590" y="2048">27</text><text x="1799" y="2010">60</text><text x="1782" y="2048">59</text><text x="2103" y="2048">72</text><text x="2299" y="2010">148</text><text x="2489" y="2048">94</text>
<text transform="translate(1460 725) rotate(90)" y="12">70</text><text transform="translate(1490 725) rotate(-90)" y="12">70</text>
<text transform="translate(1460 1159) rotate(90)" y="12">117</text><text transform="translate(1490 1159) rotate(-90)" y="12">117</text>
<text transform="translate(1460 1604) rotate(90)" y="12">75</text><text transform="translate(1490 1604) rotate(-90)" y="12">69</text>
<text transform="translate(1460 1819) rotate(90)" y="12">17</text>
<text transform="translate(2709 760) rotate(90)" y="12">111</text><text transform="translate(2709 1241) rotate(90)" y="12">287</text><text transform="translate(2730 1380) rotate(90)" y="12">157</text><text transform="translate(2750 1860) rotate(90)" y="12">49</text>
</g>
<g class="dm" font-size="18" text-anchor="middle">
<text x="1850" y="595">45</text><text x="1850" y="902">45</text><text transform="translate(1735 735) rotate(90)">60</text><text x="1713" y="585">3</text><text x="1732" y="610">7</text><text x="1966" y="610">8</text><text x="2012" y="612">2</text><text x="2034" y="612">6</text><text x="1962" y="890">6</text><text x="1734" y="905">6</text>
<text x="2100" y="578">22</text><text x="2200" y="578">11</text><text x="2045" y="620">8</text><text x="2045" y="700">11</text><text x="2045" y="735">16</text><text x="2115" y="770">25</text><text x="2190" y="770">5</text><text x="2260" y="770">13</text><text x="2290" y="578">10</text><text x="2330" y="620">13</text><text x="2330" y="700">10</text><text x="2390" y="770">4</text>
<text x="2415" y="745">8</text><text x="2455" y="800">21</text><text x="2420" y="862">6</text><text x="2372" y="545">7</text><text x="2600" y="532">15</text><text x="2655" y="595">14</text><text x="2640" y="1010">6</text><text x="2640" y="1745">6</text><text x="2640" y="1905">14</text><text x="2640" y="1950">15</text><text x="2262" y="1940">7</text>
<text x="2080" y="1370">10</text><text x="2110" y="1448">13</text><text x="2160" y="1448">13</text><text x="2178" y="1370">29</text><text x="2385" y="1375">5</text><text x="2440" y="1430">20</text><text x="2415" y="1492">8</text><text x="2005" y="1040">5</text><text x="2005" y="1815">5</text><text x="1655" y="1425">3</text><text x="1532" y="1425">3</text><text x="1655" y="885">3</text>
<text x="1590" y="1685">17</text><text x="1555" y="1700">7</text><text x="1555" y="1725">10</text><text x="1930" y="1855">3</text><text x="1655" y="1773">3</text><text x="1930" y="1935">4</text><text x="1930" y="1955">6</text>
</g>
</g>

<!-- ===== CALLOUTS ===== -->
<g class="cl">
<text x="1364" y="242" textLength="131" lengthAdjust="spacingAndGlyphs">X=4535170.3115</text><text x="1364" y="265" textLength="124" lengthAdjust="spacingAndGlyphs">Y=419373.2052</text><line x1="1355" y1="245" x2="1500" y2="245"/><polyline points="1498,245 1592,336"/>
<text x="1691" y="252" textLength="131" lengthAdjust="spacingAndGlyphs">X=4535172.3906</text><text x="1691" y="275" textLength="124" lengthAdjust="spacingAndGlyphs">Y=419379.8150</text><line x1="1677" y1="256" x2="1822" y2="256"/><polyline points="1677,256 1625,329"/>
<text x="1836" y="193" textLength="131" lengthAdjust="spacingAndGlyphs">X=4535166.9220</text><text x="1836" y="216" textLength="124" lengthAdjust="spacingAndGlyphs">Y=419425.6953</text><line x1="1824" y1="198" x2="1965" y2="198"/><polyline points="1826,198 1837,346"/>
<text x="2008" y="215" textLength="131" lengthAdjust="spacingAndGlyphs">X=4535179.1578</text><text x="2008" y="238" textLength="124" lengthAdjust="spacingAndGlyphs">Y=419447.5879</text><line x1="1990" y1="219" x2="2138" y2="219"/><polyline points="1990,219 1942,295"/>
<text x="1999" y="306" textLength="131" lengthAdjust="spacingAndGlyphs">X=4535155.2780</text><text x="1999" y="329" textLength="124" lengthAdjust="spacingAndGlyphs">Y=419439.9226</text><line x1="1988" y1="311" x2="2131" y2="311"/><polyline points="1988,311 1906,403"/>
<text x="1994" y="382" textLength="131" lengthAdjust="spacingAndGlyphs">X=4535118.9985</text><text x="1994" y="405" textLength="124" lengthAdjust="spacingAndGlyphs">Y=419453.5948</text><line x1="1983" y1="386" x2="2126" y2="386"/><polyline points="1983,386 1967,573"/>
<text x="2002" y="446" textLength="131" lengthAdjust="spacingAndGlyphs">X=4535124.6295</text><text x="2002" y="469" textLength="124" lengthAdjust="spacingAndGlyphs">Y=419469.7296</text><line x1="1990" y1="450" x2="2136" y2="450"/><polyline points="1990,450 2041,553"/>
<text x="2154" y="438" textLength="131" lengthAdjust="spacingAndGlyphs">X=4535120.6494</text><text x="2154" y="461" textLength="124" lengthAdjust="spacingAndGlyphs">Y=419470.1278</text><line x1="2150" y1="442" x2="2285" y2="442"/><polyline points="2150,442 2046,568"/>
<text x="1706" y="445" textLength="131" lengthAdjust="spacingAndGlyphs">X=4535162.5642</text><text x="1706" y="467" textLength="124" lengthAdjust="spacingAndGlyphs">Y=419382.0514</text><line x1="1697" y1="448" x2="1835" y2="448"/><polyline points="1697,448 1636,377"/>
<text x="1766" y="491" textLength="131" lengthAdjust="spacingAndGlyphs">X=4535118.0050</text><text x="1766" y="513" textLength="124" lengthAdjust="spacingAndGlyphs">Y=419443.6443</text><line x1="1756" y1="495" x2="1896" y2="495"/><polyline points="1896,495 1921,579"/>
<text x="1446" y="526" textLength="131" lengthAdjust="spacingAndGlyphs">X=4535160.9742</text><text x="1446" y="549" textLength="124" lengthAdjust="spacingAndGlyphs">Y=419376.9968</text><line x1="1436" y1="530" x2="1577" y2="530"/><polyline points="1577,530 1613,382"/>
<text x="1436" y="660" textLength="131" lengthAdjust="spacingAndGlyphs">X=4535111.9044</text><text x="1436" y="683" textLength="124" lengthAdjust="spacingAndGlyphs">Y=419382.5481</text><line x1="1427" y1="664" x2="1567" y2="664"/><polyline points="1567,664 1636,612"/>
<text x="1463" y="869" textLength="131" lengthAdjust="spacingAndGlyphs">X=4535042.2508</text><text x="1463" y="892" textLength="124" lengthAdjust="spacingAndGlyphs">Y=419389.5031</text><line x1="1455" y1="873" x2="1592" y2="873"/><polyline points="1592,873 1666,931"/>
<text x="2323" y="335" textLength="131" lengthAdjust="spacingAndGlyphs">X=4535130.6849</text><text x="2323" y="358" textLength="124" lengthAdjust="spacingAndGlyphs">Y=419530.3132</text><line x1="2255" y1="339" x2="2456" y2="339"/><polyline points="2255,339 2323,528"/>
<text x="2411" y="384" textLength="131" lengthAdjust="spacingAndGlyphs">X=4535138.6456</text><text x="2411" y="408" textLength="124" lengthAdjust="spacingAndGlyphs">Y=419529.5209</text><line x1="2400" y1="387" x2="2543" y2="387"/><polyline points="2400,387 2321,484"/>
<text x="2647" y="380" textLength="131" lengthAdjust="spacingAndGlyphs">X=4535144.9466</text><text x="2647" y="403" textLength="124" lengthAdjust="spacingAndGlyphs">Y=419592.7050</text><line x1="2637" y1="384" x2="2780" y2="384"/><polyline points="2637,384 2612,456"/>
<text x="2734" y="863" textLength="131" lengthAdjust="spacingAndGlyphs">X=4535034.9195</text><text x="2734" y="886" textLength="124" lengthAdjust="spacingAndGlyphs">Y=419603.6913</text><line x1="2721" y1="867" x2="2864" y2="867"/><polyline points="2721,867 2663,950"/>
<text x="1360" y="1034" textLength="131" lengthAdjust="spacingAndGlyphs">X=4535040.9989</text><text x="1360" y="1057" textLength="124" lengthAdjust="spacingAndGlyphs">Y=419376.9654</text><line x1="1350" y1="1038" x2="1493" y2="1038"/><polyline points="1493,1038 1610,938"/>
<text x="1371" y="1354" textLength="131" lengthAdjust="spacingAndGlyphs">X=4534924.5779</text><text x="1371" y="1377" textLength="124" lengthAdjust="spacingAndGlyphs">Y=419388.5902</text><line x1="1360" y1="1358" x2="1500" y2="1358"/><polyline points="1500,1358 1664,1479"/>
<text x="1355" y="1448" textLength="131" lengthAdjust="spacingAndGlyphs">X=4534921.9449</text><text x="1355" y="1471" textLength="124" lengthAdjust="spacingAndGlyphs">Y=419362.2213</text><line x1="1350" y1="1452" x2="1485" y2="1452"/><polyline points="1485,1452 1543,1491"/>
<text x="2706" y="1073" textLength="131" lengthAdjust="spacingAndGlyphs">X=4535034.1247</text><text x="2706" y="1096" textLength="124" lengthAdjust="spacingAndGlyphs">Y=419595.7309</text><line x1="2696" y1="1078" x2="2836" y2="1078"/><polyline points="2696,1078 2627,970"/>
<text x="2795" y="1613" textLength="131" lengthAdjust="spacingAndGlyphs">X=4534877.7888</text><text x="2795" y="1637" textLength="124" lengthAdjust="spacingAndGlyphs">Y=419611.3414</text><line x1="2785" y1="1618" x2="2925" y2="1618"/>
<text x="2831" y="1767" textLength="131" lengthAdjust="spacingAndGlyphs">X=4534878.5722</text><text x="2831" y="1789" textLength="124" lengthAdjust="spacingAndGlyphs">Y=419619.1869</text><line x1="2818" y1="1772" x2="2965" y2="1772"/><polyline points="2818,1772 2737,1694"/>
<text x="2854" y="2050" textLength="131" lengthAdjust="spacingAndGlyphs">X=4534829.5173</text><text x="2854" y="2075" textLength="124" lengthAdjust="spacingAndGlyphs">Y=419624.2013</text><line x1="2841" y1="2055" x2="2985" y2="2055"/><polyline points="2841,2055 2760,1920"/>
<text x="2363" y="2055" textLength="131" lengthAdjust="spacingAndGlyphs">X=4534820.1419</text><text x="2363" y="2078" textLength="124" lengthAdjust="spacingAndGlyphs">Y=419530.3093</text><line x1="2351" y1="2059" x2="2494" y2="2059"/><polyline points="2351,2059 2323,1963"/>
<text x="2118" y="2062" textLength="131" lengthAdjust="spacingAndGlyphs">X=4534828.1023</text><text x="2118" y="2095" textLength="124" lengthAdjust="spacingAndGlyphs">Y=419529.5145</text><line x1="2105" y1="2080" x2="2247" y2="2080"/><polyline points="2247,2080 2318,1927"/>
<text x="1350" y="1725" textLength="131" lengthAdjust="spacingAndGlyphs">X=4534847.3160</text><text x="1350" y="1747" textLength="124" lengthAdjust="spacingAndGlyphs">Y=419369.6731</text><line x1="1345" y1="1728" x2="1480" y2="1728"/><polyline points="1480,1728 1577,1835"/>
<text x="1416" y="1942" textLength="131" lengthAdjust="spacingAndGlyphs">X=4534849.9490</text><text x="1455" y="1965" textLength="84" lengthAdjust="spacingAndGlyphs">9396.0419</text><line x1="1406" y1="1947" x2="1546" y2="1947"/><polyline points="1546,1947 1699,1825"/>
<text x="1544" y="1992" textLength="131" lengthAdjust="spacingAndGlyphs">X=4534833.0331</text><text x="1544" y="2015" textLength="124" lengthAdjust="spacingAndGlyphs">Y=419397.7310</text><line x1="1534" y1="1997" x2="1677" y2="1997"/><polyline points="1677,1997 1707,1903"/>
<text x="1768" y="1992" textLength="131" lengthAdjust="spacingAndGlyphs">X=4534838.8705</text><text x="1768" y="2015" textLength="124" lengthAdjust="spacingAndGlyphs">Y=419456.1904</text><line x1="1758" y1="1997" x2="1901" y2="1997"/><polyline points="1901,1997 1979,1878"/>
<text x="1849" y="2103" textLength="131" lengthAdjust="spacingAndGlyphs">X=4534820.9594</text><text x="1849" y="2126" textLength="124" lengthAdjust="spacingAndGlyphs">Y=419457.9787</text><line x1="1837" y1="2107" x2="1980" y2="2107"/><polyline points="1980,2107 1988,1959"/>
<text x="642" y="453" textLength="131" lengthAdjust="spacingAndGlyphs">X=4535114.3212</text><text x="642" y="477" textLength="124" lengthAdjust="spacingAndGlyphs">Y=419224.9649</text><line x1="629" y1="458" x2="774" y2="458"/><polyline points="774,458 906,598"/>
<text x="1066" y="518" textLength="131" lengthAdjust="spacingAndGlyphs">X=4535099.1051</text><text x="1066" y="541" textLength="124" lengthAdjust="spacingAndGlyphs">Y=419245.9011</text><line x1="1055" y1="521" x2="1198" y2="521"/><polyline points="1055,521 1003,668"/>
<text x="577" y="860" textLength="131" lengthAdjust="spacingAndGlyphs">X=4535065.8113</text><text x="577" y="883" textLength="124" lengthAdjust="spacingAndGlyphs">Y=419212.3613</text><line x1="563" y1="862" x2="708" y2="862"/><polyline points="708,862 848,822"/>
<text x="962" y="890" textLength="131" lengthAdjust="spacingAndGlyphs">X=4535073.4700</text><text x="962" y="913" textLength="124" lengthAdjust="spacingAndGlyphs">Y=419220.5549</text><line x1="948" y1="894" x2="1093" y2="894"/><polyline points="948,894 885,788"/>
</g>

<rect x="130" y="2132" width="2800" height="40" fill="url(#bar)"/>
<text x="2910" y="2157" font-family="Liberation Sans,sans-serif" font-size="40" fill="#888" text-anchor="middle">51</text>
</svg>
</body></html>
